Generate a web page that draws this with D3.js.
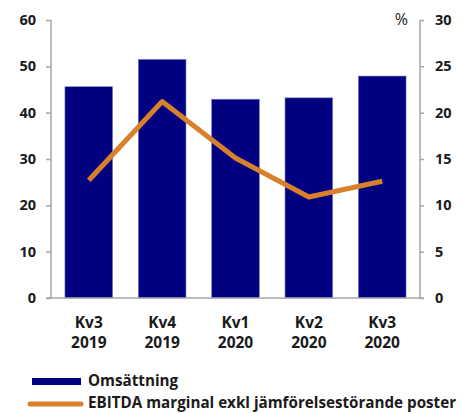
<!DOCTYPE html>
<html>
<head>
<meta charset="utf-8">
<script src="https://cdn.jsdelivr.net/npm/d3@7"></script>
<style>
  body { margin: 0; background: #fff; }
  text { font-family: "Open Sans", sans-serif; font-weight: bold; fill: #1a1a1a; }
</style>
</head>
<body>
<div id="chartbox"></div>
<script>
const quarters = ['Kv3', 'Kv4', 'Kv1', 'Kv2', 'Kv3']
const years = ['2019', '2019', '2020', '2020', '2020']
const sales = [45.6, 51.5, 42.9, 43.2, 47.9]
const margin = [12.7, 21.2, 15.1, 10.9, 12.6]
const leftTicks = [0, 10, 20, 30, 40, 50, 60]
const rightTicks = [0, 5, 10, 15, 20, 25, 30]
const legendLabels = ['Omsättning', 'EBITDA marginal exkl jämförelsestörande poster']

const WIDTH = 463
const HEIGHT = 413
const chart = { left: 51, right: 420, top: 20, bottom: 298 }
const NAVY = '#000080'
const ORANGE = '#d8802b'
const AXIS = '#a6a6a6'

const svg = d3.select('#chartbox')
  .append('svg')
  .attr('width', WIDTH)
  .attr('height', HEIGHT)

const ids = quarters.map((q, i) => i)

const x = d3.scaleBand()
  .domain(ids)
  .range([chart.left, chart.right])
  .paddingInner(0.35)
  .paddingOuter(0.19)

const yLeft = d3.scaleLinear().domain([0, 60]).range([chart.bottom, chart.top])
const yRight = d3.scaleLinear().domain([0, 30]).range([chart.bottom, chart.top])

// bars
svg.append('g')
  .selectAll('rect')
  .data(sales)
  .enter()
  .append('rect')
  .attr('x', (d, i) => x(i))
  .attr('y', d => yLeft(d))
  .attr('width', x.bandwidth())
  .attr('height', d => yLeft(0) - yLeft(d))
  .attr('fill', NAVY)
  .attr('stroke', '#7f7fbf')
  .attr('stroke-width', 0.6)

// axes
const leftAxis = d3.axisLeft(yLeft).tickValues(leftTicks).tickSize(5).tickPadding(10)
const rightAxis = d3.axisRight(yRight).tickValues(rightTicks).tickSize(4).tickPadding(11)

const gl = svg.append('g')
  .attr('transform', 'translate(' + chart.left + ',0)')
  .call(leftAxis)
const gr = svg.append('g')
  .attr('transform', 'translate(' + chart.right + ',0)')
  .call(rightAxis)

;[gl, gr].forEach(g => {
  g.select('.domain').remove()
  g.selectAll('.tick line').attr('stroke', AXIS).attr('stroke-width', 1.5)
  g.selectAll('.tick text')
    .attr('font-size', 14.5)
    .attr('font-family', '"Open Sans", sans-serif')
    .attr('font-weight', 'bold')
    .attr('fill', '#1a1a1a')
})

svg.append('line')
  .attr('x1', chart.left).attr('x2', chart.left)
  .attr('y1', chart.top).attr('y2', chart.bottom)
  .attr('stroke', AXIS).attr('stroke-width', 1.5)
svg.append('line')
  .attr('x1', chart.right).attr('x2', chart.right)
  .attr('y1', chart.top).attr('y2', chart.bottom)
  .attr('stroke', AXIS).attr('stroke-width', 1.5)
svg.append('line')
  .attr('x1', chart.left - 5).attr('x2', chart.right + 4)
  .attr('y1', chart.bottom).attr('y2', chart.bottom)
  .attr('stroke', AXIS).attr('stroke-width', 1.5)

svg.append('text')
  .attr('x', 408)
  .attr('y', yRight(30) + 5)
  .attr('text-anchor', 'end')
  .attr('font-size', 16)
  .style('font-weight', 'normal')
  .text('%')

// category labels
const cats = svg.append('g')
  .selectAll('text')
  .data(ids)
  .enter()
  .append('text')
  .attr('text-anchor', 'middle')
  .attr('font-size', 15.5)
  .attr('x', i => x(i) + x.bandwidth() / 2)
  .attr('y', 328)
cats.append('tspan').text(i => quarters[i])
cats.append('tspan')
  .attr('x', i => x(i) + x.bandwidth() / 2)
  .attr('dy', 20)
  .text(i => years[i])

// margin line
const line = d3.line()
  .x((d, i) => x(i) + x.bandwidth() / 2)
  .y(d => yRight(d))

svg.append('path')
  .datum(margin)
  .attr('d', line)
  .attr('fill', 'none')
  .attr('stroke', ORANGE)
  .attr('stroke-width', 5)
  .attr('stroke-linejoin', 'round')

// legend
svg.append('rect')
  .attr('x', 32).attr('y', 378)
  .attr('width', 49).attr('height', 7)
  .attr('fill', NAVY)
svg.append('line')
  .attr('x1', 30).attr('x2', 81)
  .attr('y1', 404).attr('y2', 404)
  .attr('stroke', ORANGE)
  .attr('stroke-width', 5)
  .attr('stroke-linecap', 'round')

svg.append('g')
  .selectAll('text')
  .data(legendLabels)
  .enter()
  .append('text')
  .attr('x', 88)
  .attr('y', (d, i) => 386 + i * 22)
  .attr('font-size', 15.2)
  .text(d => d)
</script>
</body>
</html>
